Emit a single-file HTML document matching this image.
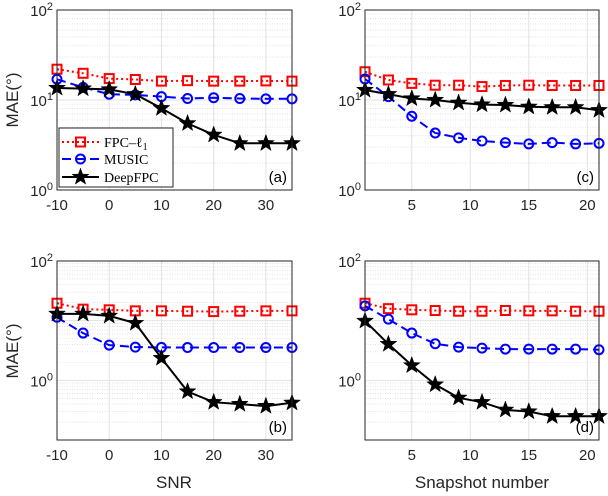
<!DOCTYPE html>
<html><head><meta charset="utf-8"><style>
html,body{margin:0;padding:0;background:#fff}
svg{display:block;font-family:"Liberation Sans",sans-serif}
</style></head><body>
<svg id="fig" width="608" height="496" viewBox="0 0 608 496" xmlns="http://www.w3.org/2000/svg"></svg>
<script>
const snrCats=[-10,-5,0,5,10,15,20,25,30,35];
const snapCats=[1,3,5,7,9,11,13,15,17,19,21];
const fpcA=[22,19.8,17.3,16.9,16.2,16.4,16.2,16.2,16.3,16.2];
const musicA=[17,13.8,11.6,11.4,10.9,10.4,10.6,10.4,10.3,10.3];
const deepA=[13.6,13.4,13.1,11.6,8.1,5.5,4.1,3.3,3.3,3.3];
const fpcB=[19.6,15.6,15.2,14.6,14.6,14.4,14.2,14.4,14.6,14.6];
const musicB=[11.4,6.2,3.9,3.6,3.56,3.55,3.55,3.55,3.55,3.55];
const deepB=[13.0,13.0,12.0,9.1,2.36,0.65,0.43,0.40,0.37,0.42];
const fpcC=[20.6,16.7,15.3,14.6,14.6,14.1,14.5,14.6,14.5,14.5,14.5];
const musicC=[17.1,10.9,6.6,4.3,3.8,3.5,3.36,3.25,3.36,3.25,3.3];
const deepC=[12.9,11.6,10.4,10,9.3,8.9,8.8,8.4,8.3,8.3,7.7];
const fpcD=[19.6,15.9,15.2,14.8,14.4,14.4,14.8,14.6,14.6,14.4,14.4];
const musicD=[17.7,10.6,6.2,4.1,3.6,3.47,3.34,3.34,3.34,3.34,3.26];
const deepD=[9.9,4.05,1.78,0.85,0.51,0.43,0.32,0.30,0.25,0.25,0.25];
const snrTicks=[-10,0,10,20,30];
const snapTicks=[5,10,15,20];

const NS="http://www.w3.org/2000/svg";
const svg=document.getElementById('fig');
function mk(tag,attrs,parent){const e=document.createElementNS(NS,tag);for(const k in attrs)e.setAttribute(k,attrs[k]);(parent||svg).appendChild(e);return e;}

function panel(o){
  const g=mk('g',{});
  
  
  const X=v=>o.l+(v-o.xmin)/(o.xmax-o.xmin)*(o.r-o.l);
  const Y=v=>o.b-(Math.log10(v)-o.ymin)/(o.ymax-o.ymin)*(o.b-o.t);
  for(let d=o.ymin;d<o.ymax;d++){for(let m=2;m<10;m++){const y=Y(m*Math.pow(10,d));
    const ln=mk('line',{x1:o.l,x2:o.r,y1:y,y2:y,stroke:'#d0d0d0','stroke-width':0.6,'stroke-dasharray':'1,1.5'},g);
    }}
  for(let d=o.ymin;d<=o.ymax;d++){const y=Y(Math.pow(10,d));
    const ln=mk('line',{x1:o.l,x2:o.r,y1:y,y2:y,stroke:'#e2e2e2','stroke-width':1},g);
    }
  o.xt.forEach(v=>{const x=X(v);
    const ln=mk('line',{x1:x,x2:x,y1:o.t,y2:o.b,stroke:'#e2e2e2','stroke-width':1},g);
    
    const t=mk('text',{x:x,y:o.b+20,'text-anchor':'middle','font-size':15,fill:'#262626'},g);
    t.textContent=v;});
  o.ylab.forEach(d=>{const y=Y(Math.pow(10,d));
    const t=mk('text',{x:o.l-4,y:y+6,'text-anchor':'end','font-size':15,fill:'#262626'},g);
    
    t.textContent='10';const s=mk('tspan',{dy:-6,'font-size':11},t);s.textContent=d;});
  const sers=[
    {v:o.fpc,c:'#ff0000',dash:'2,3',m:'sq',n:'fpc-l1-series'},
    {v:o.music,c:'#0000ff',dash:'9,5',m:'ci',n:'music-series'},
    {v:o.deep,c:'#000000',dash:'',m:'st',n:'deepfpc-series'}];
  sers.forEach(s=>{
    const pts=s.v.map((v,i)=>X(o.cats[i]).toFixed(1)+','+Y(v).toFixed(1)).join(' ');
    const pl=mk('polyline',{points:pts,fill:'none',stroke:s.c,'stroke-width':2,'stroke-dasharray':s.dash},g);
    
    s.v.forEach((v,i)=>{const x=X(o.cats[i]),y=Y(v);
      const mkr=marker(s.m,x,y,s.c,g);
      });
  });
  const bx=mk('rect',{x:o.l,y:o.t,width:o.r-o.l,height:o.b-o.t,fill:'none',stroke:'#262626','stroke-width':1},g);
  
  const pl=mk('text',{x:o.r-5,y:o.b-8,'text-anchor':'end','font-size':15,fill:'#000'},g);
  pl.textContent='('+o.id+')';
}
function marker(m,x,y,c,g){
  if(m==='sq')return mk('rect',{x:x-4.5,y:y-4.5,width:9,height:9,fill:'none',stroke:c,'stroke-width':2},g);
  if(m==='ci')return mk('circle',{cx:x,cy:y,r:4.5,fill:'none',stroke:c,'stroke-width':2},g);
  let p=[];for(let k=0;k<10;k++){const r=k%2?3.6:8.8,a=-Math.PI/2+k*Math.PI/5;p.push((x+r*Math.cos(a)).toFixed(1)+','+(y+r*Math.sin(a)).toFixed(1));}
  return mk('polygon',{points:p.join(' '),fill:c,stroke:c,'stroke-width':0.5},g);
}
panel({id:'a',l:57,r:292,t:10,b:190,xmin:-10,xmax:35,ymin:0,ymax:2,ylab:[0,1,2],xt:snrTicks,cats:snrCats,fpc:fpcA,music:musicA,deep:deepA});
panel({id:'b',l:57,r:292,t:261,b:440,xmin:-10,xmax:35,ymin:-1,ymax:2,ylab:[0,2],xt:snrTicks,cats:snrCats,fpc:fpcB,music:musicB,deep:deepB});
panel({id:'c',l:365,r:599,t:10,b:190,xmin:1,xmax:21,ymin:0,ymax:2,ylab:[0,1,2],xt:snapTicks,cats:snapCats,fpc:fpcC,music:musicC,deep:deepC});
panel({id:'d',l:365,r:599,t:261,b:440,xmin:1,xmax:21,ymin:-1,ymax:2,ylab:[0,2],xt:snapTicks,cats:snapCats,fpc:fpcD,music:musicD,deep:deepD});

const lg=mk('g',{});
mk('rect',{x:59,y:128,width:114,height:59,fill:'#fff',stroke:'#262626','stroke-width':1},lg);
const ents=[['FPC–ℓ','#ff0000','2,3','sq',142,'1'],['MUSIC','#0000ff','9,5','ci',159,''],['DeepFPC','#000','','st',177,'']];
ents.forEach(e=>{
  const eg=mk('g',{},lg);
  mk('line',{x1:62,x2:99,y1:e[4],y2:e[4],stroke:e[1],'stroke-width':2,'stroke-dasharray':e[2]},eg);
  marker(e[3],80.5,e[4],e[1],eg);
  const t=mk('text',{x:104,y:e[4]+5,'font-size':14,'font-family':'Liberation Serif,serif',fill:'#000'},eg);
  t.textContent=e[0];if(e[5]){const s=mk('tspan',{dy:3,'font-size':10},t);s.textContent=e[5];}
});
[[18,100],[18,351]].forEach(p=>{const t=mk('text',{x:p[0],y:p[1],'text-anchor':'middle','font-size':17,fill:'#262626',transform:'rotate(-90 '+p[0]+' '+p[1]+')'});
  t.textContent='MAE(°)';});
const xt1=mk('text',{x:174,y:488,'text-anchor':'middle','font-size':17,fill:'#262626'});xt1.textContent='SNR';

const xt2=mk('text',{x:482,y:488,'text-anchor':'middle','font-size':17,fill:'#262626'});xt2.textContent='Snapshot number';

</script>
</body></html>
